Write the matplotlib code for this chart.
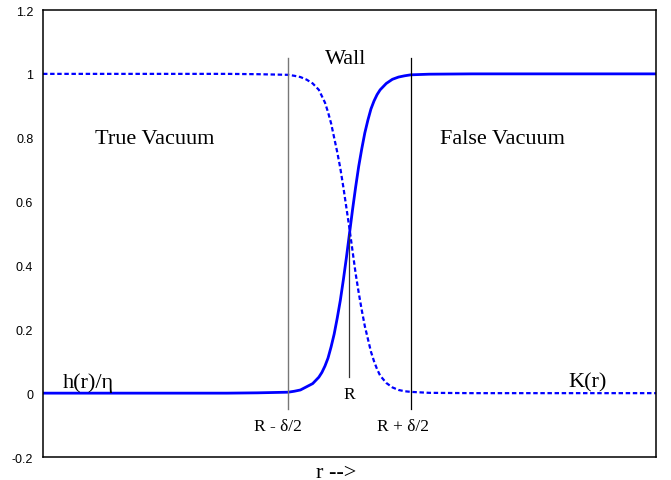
import matplotlib
matplotlib.use("Agg")
import matplotlib.pyplot as plt

# wall position and thickness
R = 5.0
delta = 2.0

# h(r)/eta : rises from 0 (true vacuum) to 1 (false vacuum)
h_r = [0.0, 3.0, 3.5, 4.0, 4.1, 4.2, 4.3, 4.4, 4.5, 4.55, 4.6, 4.65, 4.7,
       4.75, 4.8, 4.85, 4.9, 4.95, 5.0, 5.05, 5.1, 5.15, 5.2, 5.25, 5.3,
       5.35, 5.4, 5.45, 5.5, 5.6, 5.7, 5.8, 5.9, 6.0, 6.3, 7.0, 10.0]
h_val = [0.0, 0.0, 0.001, 0.003, 0.006, 0.01, 0.02, 0.03, 0.05, 0.065,
         0.085, 0.11, 0.145, 0.185, 0.235, 0.29, 0.355, 0.425, 0.5, 0.575,
         0.645, 0.71, 0.765, 0.815, 0.855, 0.89, 0.915, 0.935, 0.95, 0.97,
         0.983, 0.99, 0.994, 0.997, 0.999, 1.0, 1.0]

# K(r) : drops from 1 to 0 across the wall
k_r = [0.0, 3.0, 3.5, 4.0, 4.1, 4.2, 4.3, 4.4, 4.5, 4.55, 4.6, 4.65, 4.7,
       4.75, 4.8, 4.85, 4.9, 4.95, 5.0, 5.05, 5.1, 5.15, 5.2, 5.25, 5.3,
       5.35, 5.4, 5.45, 5.5, 5.6, 5.7, 5.8, 5.9, 6.0, 6.3, 7.0, 10.0]
k_val = [1.0, 1.0, 0.999, 0.997, 0.994, 0.99, 0.982, 0.97, 0.95, 0.93,
         0.91, 0.88, 0.845, 0.8, 0.755, 0.705, 0.645, 0.58, 0.515, 0.445,
         0.375, 0.315, 0.26, 0.21, 0.17, 0.13, 0.1, 0.075, 0.055, 0.032,
         0.018, 0.01, 0.006, 0.004, 0.001, 0.0, 0.0]

yticks = [-0.2, 0, 0.2, 0.4, 0.6, 0.8, 1, 1.2]
ytick_labels = ["-0.2", "0", "0.2", "0.4", "0.6", "0.8", "1", "1.2"]

serif = "Liberation Serif"

fig = plt.figure(figsize=(6.71, 4.81), dpi=100)
ax = fig.add_axes([0.0641, 0.0478, 0.9135, 0.9293])

ax.plot(h_r, h_val, color="#0000ff", lw=2.0, solid_capstyle="butt")
ax.plot(k_r, k_val, color="#0000ff", lw=1.6, linestyle=(0, (2, 1.2)))

# wall edges and centre
ax.plot([R - delta / 2, R - delta / 2], [-0.05, 1.05], color="#777777", lw=1.0)
ax.plot([R + delta / 2, R + delta / 2], [-0.05, 1.05], color="black", lw=0.9)
ax.plot([R, R], [0.05, 0.5], color="#333333", lw=0.9)

ax.text(1.82, 0.797, "True Vacuum", fontsize=16, family=serif,
        ha="center", va="center")
ax.text(7.49, 0.797, "False Vacuum", fontsize=16, family=serif,
        ha="center", va="center")
ax.text(4.93, 1.047, "Wall", fontsize=16, family=serif, ha="center", va="center")
ax.text(0.33, 0.02, "h(r)/\u03b7", fontsize=16, family=serif,
        ha="left", va="baseline")
ax.text(8.88, 0.022, "K(r)", fontsize=16, family=serif,
        ha="center", va="baseline")
ax.text(3.83, -0.103, "R - \u03b4/2", fontsize=12.5, family=serif,
        ha="center", va="center")
ax.text(5.0, -0.003, "R", fontsize=12.5, family=serif, ha="center", va="center")
ax.text(5.87, -0.103, "R + \u03b4/2", fontsize=12.5, family=serif,
        ha="center", va="center")
ax.text(4.78, -0.247, "r -->", fontsize=16, family=serif,
        ha="center", va="center", clip_on=False)

ax.set_xlim(0, 10)
ax.set_ylim(-0.2, 1.2)
ax.set_xticks([])
ax.set_yticks(yticks)
ax.set_yticklabels(ytick_labels, family="Liberation Sans", fontsize=9)
ax.tick_params(axis="y", length=0, pad=7)
for sp in ax.spines.values():
    sp.set_linewidth(1.1)

fig.savefig("out.png", dpi=100)
